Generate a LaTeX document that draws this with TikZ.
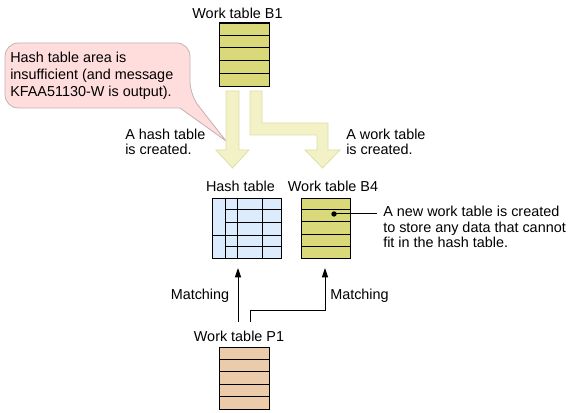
\documentclass[tikz,border=0pt]{standalone}
\usepackage{fontspec}
\setmainfont{Liberation Sans}
\usepackage{tikz}
\usepackage{xcolor}
\usetikzlibrary{arrows.meta}

\definecolor{tblyellow}{RGB}{217,217,122}
\definecolor{tblblue}{RGB}{221,236,253}
\definecolor{tblpeach}{RGB}{236,203,170}
\definecolor{bigarrow}{RGB}{242,242,198}
\definecolor{bigarrowedge}{RGB}{222,222,170}
\definecolor{calloutfill}{RGB}{255,221,221}
\definecolor{calloutedge}{RGB}{196,176,176}

\begin{document}
\begin{tikzpicture}[x=0.75pt,y=0.75pt,yscale=-1,
  every node/.style={font=\fontsize{10.8}{11.6}\selectfont, inner sep=0pt},
  tbl/.style={draw=black, line width=0.8pt, minimum width=37.5pt},
  rowline/.style={line width=0.75pt},
  bigarr/.style={fill=bigarrow, draw=bigarrowedge, line width=0.6pt},
  match/.style={line width=0.75pt, -{Triangle[length=7pt,width=4.6pt]}},
  note/.style={align=left, anchor=west}]
\useasboundingbox (0,0) rectangle (569,413);

%Shape: Callout
\draw [fill=calloutfill, draw=calloutedge, line width=0.6pt, rounded corners=10]
  (5,75) -- (5,43) -- (190,43) -- (190,95) [sharp corners] -- (226,141) -- (180,108)
  [rounded corners=10] -- (5,108) -- cycle;
% Text Node
\node [note] (lack) at (10,76) {Hash table area is\\[1.3pt]insufficient (and message\\[1.3pt]KFAA51130-W is output).};

%Shape: Big arrows
\draw [bigarr] (226,91) -- (239,91) -- (239,150) -- (249,150) -- (232.5,168) -- (216,150) -- (226,150) -- cycle;
\draw [bigarr] (250,91) -- (262,91) -- (262,123) -- (328,123) -- (328,150) -- (340,150) -- (322.5,168) -- (305,150) -- (317,150) -- (317,135) -- (250,135) -- cycle;
% Text Node
\node [note] (hashmade) at (125,142) {A hash table\\is created.};
% Text Node
\node [note] (workmade) at (346,142) {A work table\\is created.};

%Shape: Work table B1
\node [tbl, fill=tblyellow, minimum height=47.6pt, anchor=north west] (b1) at (219,22.5) {};
\foreach \k in {1,...,4} \draw [rowline] (b1.north west) ++(0,\k*12.7) -- ++(50,0);
\node (b1lbl) at (237.5,13) {Work table B1};

%Shape: Hash table
\node [tbl, fill=tblblue, minimum width=51.75pt, minimum height=45pt, anchor=north west] (hash) at (212,198) {};
\foreach \dx in {13,25,50} \draw [rowline] (hash.north west) ++(\dx,0) -- ++(0,60);
\foreach \dy in {12,24.7,49} \draw [rowline] (hash.north west) ++(13,\dy) -- ++(56,0);
\draw [rowline] (hash.north west) ++(0,37.7) -- ++(69,0);
\node (hashlbl) at (240.5,186) {Hash table};

%Shape: Work table B4
\node [tbl, fill=tblyellow, minimum width=36.75pt, minimum height=45pt, anchor=north west] (b4) at (301,198) {};
\foreach \dy in {11.5,24,36.5,49} \draw [rowline] (b4.north west) ++(0,\dy) -- ++(49,0);
\node (b4lbl) at (333,186) {Work table B4};

% new table dot and note
\fill (334,214) circle (2pt) coordinate (newdot);
\coordinate (noteend) at (377,214);
\draw [line width=0.75pt] (newdot) -- (noteend);
\node [note] (newnote) at (383,227) {A new work table is created\\to store any data that cannot\\fit in the hash table.};

%Shape: Work table P1
\node [tbl, fill=tblpeach, minimum height=46.7pt, anchor=north west] (p1) at (219,346.7) {};
\foreach \k in {1,...,4} \draw [rowline] (p1.north west) ++(0,\k*12.45) -- ++(50,0);
\node (p1lbl) at (239,336) {Work table P1};

% Matching connectors
\coordinate (m1from) at (238,322);
\coordinate (m1to) at (238,268);
\coordinate (m2from) at (250,322);
\coordinate (m2to) at (325,268);
\draw [match] (m1from) -- (m1to);
\draw [match] (m2from) -- (250,311) -| (m2to);
% Text Node
\node (match1) at (200,296) {Matching};
% Text Node
\node (match2) at (359.5,296) {Matching};

\end{tikzpicture}
\end{document}
